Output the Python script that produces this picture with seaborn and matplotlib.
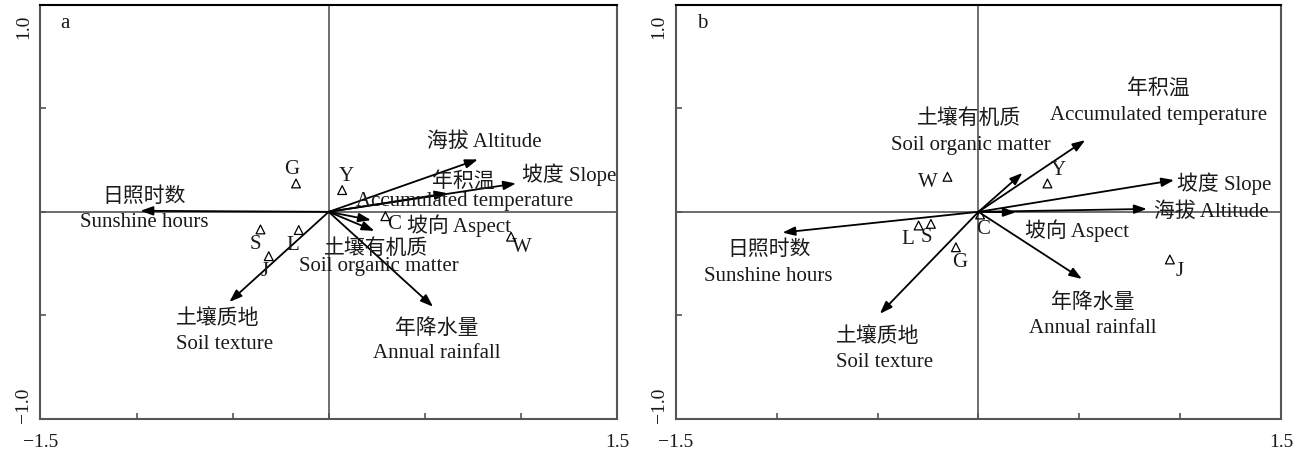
import pandas as pd
import seaborn as sns
import matplotlib.pyplot as plt
from matplotlib.transforms import ScaledTranslation

sns.set_style("ticks")
plt.rcParams['font.family'] = ['Liberation Serif', 'Noto Sans CJK SC', 'DejaVu Sans']
plt.rcParams['axes.unicode_minus'] = True

# environmental factors (arrows)
env_cn = ['日照时数', '土壤质地', '海拔', '坡度', '年积温', '坡向', '土壤有机质', '年降水量']
env_en = ['Sunshine hours', 'Soil texture', 'Altitude', 'Slope',
          'Accumulated temperature', 'Aspect', 'Soil organic matter', 'Annual rainfall']

env_x_a = [-0.98, -0.517, 0.776, 0.975, 0.618, 0.22, 0.238, 0.543]
env_y_a = [0.005, -0.435, 0.253, 0.137, 0.09, -0.04, -0.092, -0.458]

env_x_b = [-0.972, -0.489, 0.835, 0.97, 0.529, 0.185, 0.218, 0.513]
env_y_b = [-0.1, -0.492, 0.014, 0.153, 0.346, -0.002, 0.188, -0.324]

# sites (triangles)
sites = ['G', 'Y', 'C', 'W', 'S', 'L', 'J']
site_x_a = [-0.17, 0.07, 0.295, 0.949, -0.355, -0.156, -0.312]
site_y_a = [0.137, 0.105, -0.021, -0.12, -0.085, -0.088, -0.214]
site_x_b = [-0.112, 0.342, 0.008, -0.154, -0.236, -0.297, 0.949]
site_y_b = [-0.171, 0.137, -0.013, 0.169, -0.058, -0.066, -0.23]

x_ticks = [-1.5, -1.0, -0.5, 0, 0.5, 1.0, 1.5]
x_ticklabels = ['\u22121.5', '', '', '', '', '', '1.5']
y_ticks = [-1.0, -0.5, 0, 0.5, 1.0]
y_ticklabels = ['\u22121.0', '', '', '', '1.0']

# ---- label layout (positions, not data) ----
labels_a = [
    (-0.96, 0.073, '日照时数'), (-0.96, -0.053, 'Sunshine hours'),
    (-0.58, -0.516, '土壤质地'), (-0.543, -0.64, 'Soil texture'),
    (0.81, 0.334, '海拔 Altitude'),
    (1.25, 0.177, '坡度 Slope'),
    (0.70, 0.145, '年积温'), (0.705, 0.048, 'Accumulated temperature'),
    (0.68, -0.065, '坡向 Aspect'),
    (0.248, -0.177, '土壤有机质'), (0.259, -0.266, 'Soil organic matter'),
    (0.56, -0.565, '年降水量'), (0.56, -0.685, 'Annual rainfall'),
]
labels_b = [
    (0.894, 0.592, '年积温'), (0.894, 0.465, 'Accumulated temperature'),
    (-0.047, 0.447, '土壤有机质'), (-0.037, 0.319, 'Soil organic matter'),
    (1.216, 0.137, '坡度 Slope'),
    (1.155, 0.0, '海拔 Altitude'),
    (0.487, -0.089, '坡向 Aspect'),
    (-1.038, -0.185, '日照时数'), (-1.044, -0.311, 'Sunshine hours'),
    (-0.50, -0.605, '土壤质地'), (-0.464, -0.729, 'Soil texture'),
    (0.569, -0.44, '年降水量'), (0.569, -0.565, 'Annual rainfall'),
]
# site label offsets in points
site_off_a = {'G': (-3, 10), 'Y': (3, 10), 'C': (6, -6), 'W': (8, -8),
              'S': (-4, -11), 'L': (-4, -11), 'J': (-3, -11)}
site_off_b = {'G': (3, -11), 'Y': (8, 9), 'C': (2, -11), 'W': (-14, -4),
              'S': (-3, -10), 'L': (-8, -10), 'J': (7, -9)}

text_color = '#1a1a1a'
spine_color = '#555555'


def draw_panel(fig, ax, ex, ey, sx, sy, labels, offs, tag):
    ax.set_xlim(-1.5, 1.5)
    ax.set_ylim(-1.0, 1.0)
    ax.axhline(0, color=spine_color, lw=1.2, zorder=1)
    ax.axvline(0, color=spine_color, lw=1.2, zorder=1)

    for x, y in zip(ex, ey):
        ax.annotate('', xy=(x, y), xytext=(0, 0),
                    arrowprops=dict(arrowstyle='-|>,head_length=0.75,head_width=0.27',
                                    color='black', lw=1.3, shrinkA=0, shrinkB=0),
                    zorder=3)

    df = pd.DataFrame({'x': sx, 'y': sy, 'site': sites})
    sns.scatterplot(data=df, x='x', y='y', marker='^', s=40,
                    facecolor='none', edgecolor='black', linewidth=0.9,
                    ax=ax, zorder=4, legend=False)
    for x, y, s in zip(sx, sy, sites):
        ax.annotate(s, xy=(x, y), xytext=offs[s], textcoords='offset points',
                    ha='center', va='center', fontsize=15, color=text_color)

    for x, y, t in labels:
        ax.text(x, y, t, ha='center', va='center', fontsize=15, color=text_color)

    ax.text(0.035, 0.955, tag, transform=ax.transAxes, fontsize=15,
            ha='left', va='center', color=text_color)

    ax.set_xticks(x_ticks)
    ax.set_xticklabels(x_ticklabels, fontsize=14)
    ax.set_yticks(y_ticks)
    ax.set_yticklabels(y_ticklabels, fontsize=14, rotation=90, va='center')
    ax.tick_params(direction='in', length=4, width=1.2, color=spine_color,
                   labelcolor=text_color)
    ax.tick_params(axis='x', pad=11)
    ax.tick_params(axis='y', pad=6)

    # tick labels at the ends sit inside the frame, as in the source figure
    ylabs = ax.get_yticklabels()
    ylabs[-1].set_transform(ylabs[-1].get_transform()
                            + ScaledTranslation(0, -0.22, fig.dpi_scale_trans))
    ylabs[0].set_transform(ylabs[0].get_transform()
                           + ScaledTranslation(0, 0.14, fig.dpi_scale_trans))

    ax.set_xlabel('')
    ax.set_ylabel('')
    for sp in ax.spines.values():
        sp.set_visible(True)
        sp.set_color(spine_color)
        sp.set_linewidth(1.5)
    ax.spines['top'].set_color('black')


fig = plt.figure(figsize=(13.01, 4.54), dpi=100)
ax_a = fig.add_axes([0.0311, 0.0771, 0.4431, 0.9126])
ax_b = fig.add_axes([0.5196, 0.0771, 0.4650, 0.9126])

draw_panel(fig, ax_a, env_x_a, env_y_a, site_x_a, site_y_a, labels_a, site_off_a, 'a')
draw_panel(fig, ax_b, env_x_b, env_y_b, site_x_b, site_y_b, labels_b, site_off_b, 'b')

fig.savefig('out.png', dpi=100)
